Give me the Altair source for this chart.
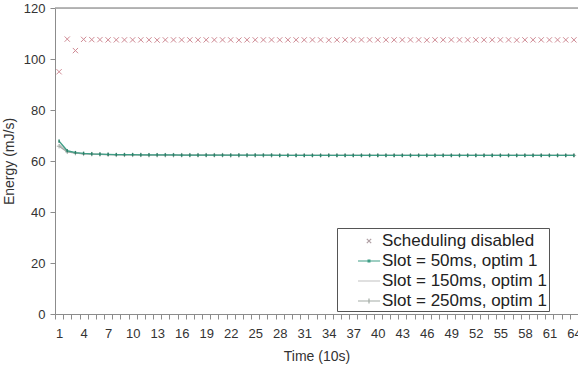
import altair as alt
import pandas as pd
import numpy as np

# ---- data ----
time_steps = list(range(1, 65))
sched_disabled = [95.0, 107.8, 103.3, 107.7, 107.6, 107.6, 107.5, 107.5, 107.5, 107.5,
                  107.5, 107.5, 107.4, 107.5, 107.5, 107.5, 107.5, 107.5, 107.5, 107.5,
                  107.5, 107.5, 107.4, 107.5, 107.5, 107.5, 107.5, 107.5, 107.5, 107.5,
                  107.5, 107.5, 107.5, 107.4, 107.5, 107.5, 107.5, 107.5, 107.5, 107.5,
                  107.5, 107.5, 107.5, 107.5, 107.5, 107.4, 107.5, 107.5, 107.5, 107.5,
                  107.5, 107.5, 107.5, 107.5, 107.5, 107.5, 107.4, 107.5, 107.5, 107.5,
                  107.5, 107.5, 107.5, 107.5]
slot_50 = [67.8, 64.0, 63.3, 63.0, 62.8, 62.7, 62.6, 62.5, 62.5, 62.5,
           62.4, 62.4, 62.4, 62.4, 62.4, 62.3, 62.3, 62.3, 62.3, 62.3,
           62.3, 62.3, 62.3, 62.3, 62.3, 62.3, 62.3, 62.2, 62.2, 62.2,
           62.2, 62.2, 62.2, 62.2, 62.2, 62.2, 62.2, 62.2, 62.2, 62.2,
           62.2, 62.2, 62.2, 62.2, 62.2, 62.2, 62.2, 62.2, 62.2, 62.2,
           62.2, 62.2, 62.2, 62.2, 62.2, 62.2, 62.2, 62.2, 62.2, 62.2,
           62.2, 62.2, 62.2, 62.2]
slot_150 = [66.6, 63.8, 63.2, 62.9, 62.7, 62.6, 62.5, 62.5, 62.4, 62.4,
            62.4, 62.4, 62.3, 62.3, 62.3, 62.3, 62.3, 62.3, 62.3, 62.3,
            62.3, 62.3, 62.3, 62.2, 62.2, 62.2, 62.2, 62.2, 62.2, 62.2,
            62.2, 62.2, 62.2, 62.2, 62.2, 62.2, 62.2, 62.2, 62.2, 62.2,
            62.2, 62.2, 62.2, 62.2, 62.2, 62.2, 62.2, 62.2, 62.2, 62.2,
            62.2, 62.2, 62.2, 62.2, 62.2, 62.2, 62.2, 62.2, 62.2, 62.2,
            62.2, 62.2, 62.2, 62.2]
slot_250 = [65.8, 63.6, 63.1, 62.8, 62.7, 62.6, 62.5, 62.4, 62.4, 62.4,
            62.4, 62.3, 62.3, 62.3, 62.3, 62.3, 62.3, 62.3, 62.3, 62.3,
            62.3, 62.2, 62.2, 62.2, 62.2, 62.2, 62.2, 62.2, 62.2, 62.2,
            62.2, 62.2, 62.2, 62.2, 62.2, 62.2, 62.2, 62.2, 62.2, 62.2,
            62.2, 62.2, 62.2, 62.2, 62.2, 62.2, 62.2, 62.2, 62.2, 62.2,
            62.2, 62.2, 62.2, 62.2, 62.2, 62.2, 62.2, 62.2, 62.2, 62.2,
            62.2, 62.2, 62.2, 62.2]
series_names = ["Scheduling disabled", "Slot = 50ms, optim 1",
                "Slot = 150ms, optim 1", "Slot = 250ms, optim 1"]
y_ticks = [0, 20, 40, 60, 80, 100, 120]

# ---- styling ----
marker_color = "#cf8a94"
colors = ["#b0a0a4", "#3f9e86", "#cccccc", "#a3aca6"]
legend_shapes = [
    "M-0.22,-0.22L0.22,0.22M-0.22,0.22L0.22,-0.22",
    "M-1.1,0H1.1M-0.09,-0.09H0.09V0.09H-0.09Z",
    "M-1.1,0H1.1",
    "M-1.1,0H1.1M0,-0.25V0.25",
]
FONT = "Liberation Sans"

frames = []
for name, vals in zip(series_names, [sched_disabled, slot_50, slot_150, slot_250]):
    frames.append(pd.DataFrame({"t": time_steps, "energy": vals, "series": name}))
df = pd.concat(frames, ignore_index=True)

x_scale = alt.Scale(domain=time_steps, paddingInner=0, paddingOuter=0)
y_scale = alt.Scale(domain=[0, 120], nice=False)
color_scale = alt.Scale(domain=series_names, range=colors)

x_enc = alt.X("t:O", scale=x_scale, title="Time (10s)",
              axis=alt.Axis(labelExpr="((datum.value - 1) % 3 == 0) ? datum.label : ''",
                            labelAngle=0, tickBand="extent",
                            labelOverlap=False, labelBound=False, labelFlush=False,
                            grid=False, tickSize=5, labelPadding=8, titlePadding=9,
                            domainColor="#8c8c8c", tickColor="#8c8c8c",
                            labelFont=FONT, labelFontSize=13, labelColor="#333333",
                            titleFont=FONT, titleFontSize=14, titleFontWeight="normal",
                            titleColor="#333333"))
y_enc = alt.Y("energy:Q", scale=y_scale, title="Energy (mJ/s)",
              axis=alt.Axis(values=y_ticks, grid=False, tickSize=5, labelPadding=5,
                            titlePadding=7, domainColor="#8c8c8c", tickColor="#8c8c8c",
                            labelFont=FONT, labelFontSize=13, labelColor="#333333",
                            titleFont=FONT, titleFontSize=14, titleFontWeight="normal",
                            titleColor="#333333"))

top_rule = alt.Chart(pd.DataFrame({"energy": [120]})).mark_rule(
    color="#a0a0a0", strokeWidth=1.5).encode(y=y_enc)


def series_line(i, width=1.4):
    return alt.Chart(df[df.series == series_names[i]]).mark_line(
        strokeWidth=width, color=colors[i]).encode(x=x_enc, y=y_enc)


line150 = series_line(2)
line250 = series_line(3)
line50 = series_line(1)

plus_pts = alt.Chart(df[df.series == series_names[3]]).mark_point(
    shape="M0,-1V1M-1,0H1", size=20, strokeWidth=1, opacity=1, color=colors[3]
).encode(x=x_enc, y=y_enc)

dot_pts = alt.Chart(df[df.series == series_names[1]]).mark_point(
    shape="M0,-1V1", size=10, strokeWidth=1.5, opacity=1, color="#2d8069"
).encode(x=x_enc, y=y_enc)

cross_pts = alt.Chart(df[df.series == series_names[0]]).mark_point(
    shape="M-1,-1L1,1M-1,1L1,-1", size=28, strokeWidth=1, opacity=1, color=marker_color
).encode(x=x_enc, y=y_enc)

legend_df = pd.DataFrame({"t": [1] * 4, "energy": [np.nan] * 4, "series": series_names})
legend_layer = alt.Chart(legend_df).mark_point(filled=False, opacity=1, strokeWidth=1).encode(
    x=x_enc, y=y_enc,
    color=alt.Color("series:N", scale=color_scale, title=None,
                    legend=alt.Legend(orient="none", legendX=282, legendY=220,
                                      fillColor="white", strokeColor="#555555",
                                      padding=2, symbolOffset=19, symbolSize=400,
                                      symbolStrokeWidth=1.2, labelOffset=2,
                                      labelExpr="datum.label + '\u00a0\u00a0\u00a0\u00a0'",
                                      labelFont=FONT, labelFontSize=17, labelColor="#222222",
                                      rowPadding=1, labelLimit=400)),
    shape=alt.Shape("series:N", scale=alt.Scale(domain=series_names, range=legend_shapes),
                    title=None),
)

chart = alt.layer(top_rule, line150, line250, plus_pts, line50, dot_pts, cross_pts,
                  legend_layer).properties(
    width=523, height=306,
    padding={"left": 55, "top": 8, "right": 0, "bottom": 58},
    autosize=alt.AutoSizeParams(type="none"),
).configure_view(stroke=None).configure(background="white")

chart.save("out.html", embed_options={"renderer": "svg", "actions": False})
